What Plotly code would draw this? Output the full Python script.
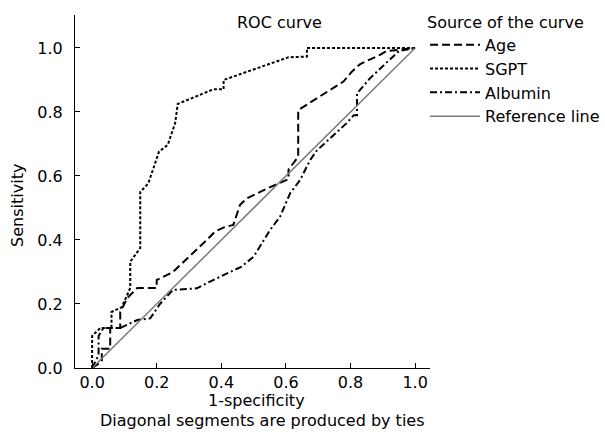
import plotly.graph_objects as go

# Data
age_x = [0, 0.03, 0.03, 0.056, 0.056, 0.087, 0.087, 0.11, 0.14, 0.2, 0.2, 0.25, 0.355, 0.38, 0.41, 0.437,
         0.458, 0.479, 0.54, 0.577, 0.608, 0.608, 0.638, 0.638, 0.66, 0.716, 0.778, 0.804, 0.83, 0.89, 0.91, 1.0]
age_y = [0, 0.02, 0.06, 0.06, 0.125, 0.125, 0.175, 0.22, 0.25, 0.25, 0.275, 0.30, 0.40, 0.426, 0.44, 0.447,
         0.51, 0.53, 0.56, 0.577, 0.59, 0.62, 0.66, 0.806, 0.82, 0.858, 0.895, 0.926, 0.95, 0.978, 0.99, 1.0]

sgpt_x = [0, 0, 0.025, 0.06, 0.06, 0.092, 0.118, 0.118, 0.149, 0.149, 0.174, 0.207, 0.234, 0.257, 0.265,
          0.376, 0.407, 0.407, 0.608, 0.665, 0.665, 1.0]
sgpt_y = [0, 0.1, 0.125, 0.125, 0.175, 0.19, 0.25, 0.332, 0.375, 0.55, 0.577, 0.676, 0.697, 0.765, 0.825,
          0.871, 0.871, 0.9, 0.971, 0.973, 1.0, 1.0]

alb_x = [0, 0.02, 0.02, 0.035, 0.087, 0.14, 0.18, 0.21, 0.25, 0.324, 0.365, 0.463, 0.5, 0.55, 0.582, 0.613,
         0.644, 0.675, 0.696, 0.788, 0.81, 0.82, 0.82, 0.86, 0.92, 0.95, 1.0]
alb_y = [0, 0.04, 0.1, 0.125, 0.125, 0.15, 0.155, 0.2, 0.244, 0.249, 0.27, 0.317, 0.348, 0.43, 0.473, 0.546,
         0.5875, 0.65, 0.68, 0.765, 0.79, 0.79, 0.858, 0.905, 0.9625, 0.99, 1.0]

ref_x = [0, 1]
ref_y = [0, 1]

tick_vals = [0.0, 0.2, 0.4, 0.6, 0.8, 1.0]
tick_text = ["0.0", "0.2", "0.4", "0.6", "0.8", "1.0"]

FONT = "DejaVu Sans"
FS = 16

fig = go.Figure()
fig.add_trace(go.Scatter(x=age_x, y=age_y, mode="lines", name="Age",
                         line=dict(color="black", width=2, dash="8px,4px")))
fig.add_trace(go.Scatter(x=sgpt_x, y=sgpt_y, mode="lines", name="SGPT",
                         line=dict(color="black", width=2, dash="3px,2px")))
fig.add_trace(go.Scatter(x=alb_x, y=alb_y, mode="lines", name="Albumin",
                         line=dict(color="black", width=2, dash="7px,3px,2px,3px")))
fig.add_trace(go.Scatter(x=ref_x, y=ref_y, mode="lines", name="Reference line",
                         line=dict(color="#7a7a7a", width=1.5)))

fig.update_layout(
    width=605, height=439,
    margin=dict(l=75, r=175, t=15, b=71, autoexpand=False),
    paper_bgcolor="white", plot_bgcolor="white",
    font=dict(family=FONT, size=FS, color="black"),
    showlegend=True,
    legend=dict(x=0.986, y=1.0225, xanchor="left", yanchor="top",
                title=dict(text="Source of the curve", font=dict(size=FS)),
                font=dict(size=FS), tracegroupgap=0, itemwidth=50,
                bgcolor="rgba(0,0,0,0)"),
    xaxis=dict(range=[-0.053, 1.046], showgrid=False, zeroline=False, showline=True,
               linecolor="black", linewidth=1, ticks="inside", ticklen=5, tickcolor="black",
               tickvals=tick_vals, ticktext=tick_text, tickfont=dict(size=FS),
               ticklabelstandoff=0),
    yaxis=dict(range=[0, 1.103], showgrid=False, zeroline=False, showline=True,
               linecolor="black", linewidth=1, ticks="inside", ticklen=5, tickcolor="black",
               tickvals=tick_vals, ticktext=tick_text, tickfont=dict(size=FS),
               ticklabelstandoff=8),
)

fig.add_annotation(text="1-specificity", xref="paper", yref="paper", x=0.51, y=-0.093,
                   xanchor="center", yanchor="middle", showarrow=False, font=dict(size=FS))
fig.add_annotation(text="Sensitivity", xref="paper", yref="paper", x=-0.1606, y=0.462,
                   xanchor="center", yanchor="middle", textangle=-90, showarrow=False,
                   font=dict(size=FS))
fig.add_annotation(text="ROC curve", xref="paper", yref="paper", x=0.577, y=0.980,
                   xanchor="center", yanchor="middle", showarrow=False, font=dict(size=FS))
fig.add_annotation(text="Diagonal segments are produced by ties", xref="paper", yref="paper",
                   x=0.527, y=-0.150, xanchor="center", yanchor="middle", showarrow=False,
                   font=dict(size=FS))

fig.write_html("out.html", config={"displayModeBar": False},
               post_script="document.body.style.margin='0px';")
